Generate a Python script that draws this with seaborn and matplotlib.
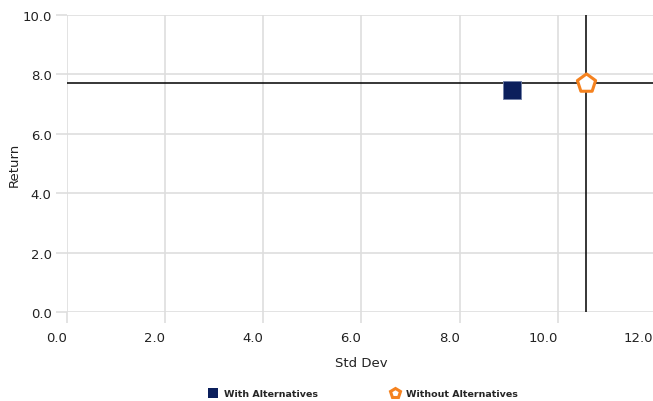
import matplotlib
matplotlib.use("Agg")
import matplotlib.pyplot as plt
import matplotlib.transforms as mtransforms
import seaborn as sns
import pandas as pd
from matplotlib.lines import Line2D

series = ["With Alternatives", "Without Alternatives"]
std_dev = [9.07, 10.58]
returns = [7.47, 7.71]
x_ticks = [0, 2, 4, 6, 8, 10, 12]
y_ticks = [0, 2, 4, 6, 8, 10]

colors = {"With Alternatives": "#0b1f5c", "Without Alternatives": "#f5821f"}

df = pd.DataFrame({"Series": series, "Std Dev": std_dev, "Return": returns})

sns.set_style("white")
plt.rcParams["font.family"] = ["DejaVu Sans"]

fig = plt.figure(figsize=(6.53, 4.02), dpi=100)
ax = fig.add_axes([67 / 653, 1 - 313 / 402, (656 - 67) / 653, (313 - 16) / 402])

grid_c = "#dedede"
ax.set_xlim(0, 12)
ax.set_ylim(0, 10)
ax.set_xticks(x_ticks)
ax.set_yticks(y_ticks)
ax.grid(True, color=grid_c, lw=1.2, zorder=0)
ax.set_axisbelow(True)
for s in ax.spines.values():
    s.set_visible(False)

# crosshair through the "Without Alternatives" point
wo = df[df["Series"] == "Without Alternatives"].iloc[0]
ax.axhline(wo["Return"], color="black", lw=1.1, zorder=2)
ax.axvline(wo["Std Dev"], color="black", lw=1.1, zorder=2)

sub1 = df[df["Series"] == "With Alternatives"]
sns.scatterplot(data=sub1, x="Std Dev", y="Return", ax=ax, marker="s", s=165,
                color=colors["With Alternatives"], edgecolor="#7080a8", linewidth=0.6,
                zorder=3, legend=False)
sub2 = df[df["Series"] == "Without Alternatives"]
sns.scatterplot(data=sub2, x="Std Dev", y="Return", ax=ax, marker="p", s=190,
                facecolor="white", edgecolor=colors["Without Alternatives"], linewidth=2.2,
                zorder=4, legend=False)

ax.set_xticklabels([f"{v:.1f}" for v in x_ticks])
ax.set_yticklabels([f"{v:.1f}" for v in y_ticks])
ax.tick_params(axis="both", length=8, width=1.2, color=grid_c, labelsize=9.5,
               labelcolor="#222222", left=True, bottom=True)
ax.tick_params(axis="x", pad=6)
ax.tick_params(axis="y", pad=3)
xlabels = ax.get_xticklabels()
for lab in xlabels:
    lab.set_ha("right")
# keep the last x label inside the figure
last = xlabels[-1]
last.set_transform(last.get_transform() +
                   mtransforms.ScaledTranslation(-3 / 100, 0, fig.dpi_scale_trans))

ax.set_xlabel("Std Dev", fontsize=9.5, color="#222222", labelpad=8)
ax.set_ylabel("Return", fontsize=9.5, color="#222222", labelpad=1)

handles = [
    Line2D([], [], marker="s", ls="none", markersize=6.5, color=colors["With Alternatives"],
           markeredgewidth=0),
    Line2D([], [], marker="p", ls="none", markersize=7.5, markerfacecolor="white",
           markeredgecolor=colors["Without Alternatives"], markeredgewidth=2.2),
]
fig.legend(handles, series, loc="center", bbox_to_anchor=(0.556, 1 - 395 / 402), ncol=2,
           frameon=False, prop={"size": 6.8, "weight": "bold"}, columnspacing=7.6,
           handletextpad=0.7, handlelength=1.0)

fig.savefig("out.png", dpi=100)
